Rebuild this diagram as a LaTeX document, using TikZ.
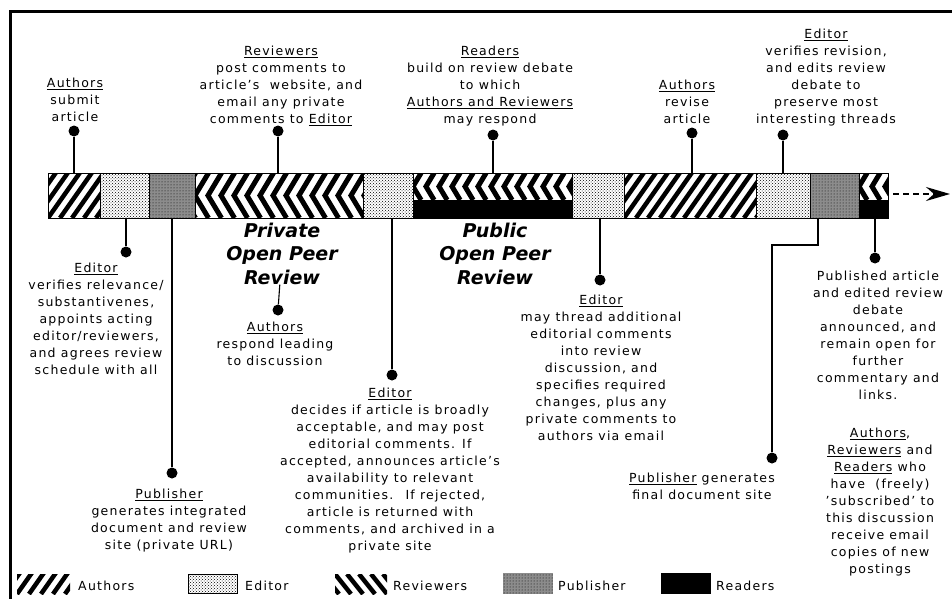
\documentclass[tikz,border=0pt]{standalone}
\usepackage{fontspec}
\setmainfont{DejaVu Sans}[LetterSpace=10]
\newfontfamily\headfont{DejaVu Sans}
\usepackage{tikz}
\usetikzlibrary{arrows.meta,patterns,positioning}

\newcommand{\who}[1]{\underline{#1}}

% diagonal stripes (authors)
\newcommand{\authorsfill}[4]{%
  \begin{scope}
    \clip (#1,#2) rectangle (#3,#4);
    \foreach \i in {-4,...,12}
      \draw[line width=4.5pt] ({#1+\i*12},#4) -- ++(38,-54);
  \end{scope}}
% chevrons (reviewers)
\newcommand{\chevronfill}[4]{%
  \begin{scope}
    \clip (#1,#2) rectangle (#3,#4);
    \foreach \i in {-1,...,14}
      \draw[line width=5pt] ({#1+\i*13+0.3*(#4-#2)},#2) -- ({#1+\i*13},{0.5*(#2+#4)}) -- ({#1+\i*13+0.3*(#4-#2)},#4);
  \end{scope}}

\begin{document}
\begin{tikzpicture}[x=1pt, y=-1pt]
    \tikzstyle{note} = [align=center, inner sep=0pt, anchor=north, font=\fontsize{12.5}{17}\selectfont]
    \tikzstyle{phase} = [align=center, inner sep=0pt, anchor=north, font=\headfont\bfseries\itshape\fontsize{19}{23.5}\selectfont]
    \tikzstyle{blob} = [circle, fill=black, inner sep=0pt, minimum size=11pt]
    \tikzstyle{stem} = [line width=1.1pt]
    \tikzstyle{editorfill} = [pattern=crosshatch dots]
    \tikzstyle{publisherfill} = [fill=black!45, postaction={pattern=dots}]
    \tikzstyle{lbl} = [inner sep=0pt, anchor=base west, font=\fontsize{12.5}{17}\selectfont]
    \tikzstyle{onward} = [-{Stealth[length=24pt,width=14pt,inset=8pt]}, line width=2pt, dash pattern=on 6pt off 4pt]

    \useasboundingbox (0,0) rectangle (952,599);
    \draw[line width=3pt] (10.5,599) -- (10.5,12) -- (952,12);

    % the time line
    \authorsfill{48}{173}{100}{218}
    \path[editorfill] (100,173) rectangle (149,218);
    \path[publisherfill] (149,173) rectangle (195,218);
    \chevronfill{195}{173}{363}{218}
    \path[editorfill] (363,173) rectangle (413,218);
    \chevronfill{413}{173}{572}{200}
    \fill (413,200) rectangle (572,218);
    \path[editorfill] (572,173) rectangle (624,218);
    \authorsfill{624}{173}{756}{218}
    \path[editorfill] (756,173) rectangle (810,218);
    \path[publisherfill] (810,173) rectangle (859,218);
    \chevronfill{859}{173}{888}{200}
    \fill (859,200) rectangle (888,218);
    \draw[line width=1pt] (48,173) rectangle (888,218);
    \foreach \x in {100,149,195,363,413,572,624,756,810,859}
      \draw[line width=1pt] (\x,173) -- (\x,218);

    \coordinate (go) at (893,194);
    \coordinate (goes) at (950,194);
    \draw[onward] (go) -- (goes);

    % steps above the line
    \node[blob] (submit) at (74,131) {};
    \node[blob] (post) at (278,131) {};
    \node[blob] (build) at (493,135) {};
    \node[blob] (revise) at (692,133) {};
    \node[blob] (check2) at (783,135) {};
    \foreach \n/\x in {submit/74, post/278, build/493, revise/692, check2/783}
      \coordinate (\n top) at (\x,173);
    \foreach \n in {submit, post, build, revise, check2}
      \draw[stem] (\n) -- (\n top);

    \node[note] (submitText) at (75,77.5) {\who{Authors}\\submit\\article};
    \node[note] (postText) at (281,45.5) {\who{Reviewers}\\post comments to\\article's \ website, and\\email any private\\comments to \who{Editor}};
    \node[note] (buildText) at (490,45.5) {\who{Readers}\\build on review debate\\to which\\\who{Authors and Reviewers}\\may respond};
    \node[note] (reviseText) at (687,79.5) {\who{Authors}\\revise\\article};
    \node[note] (check2Text) at (826,28.5) {\who{Editor}\\verifies revision,\\and edits review\\debate to\\preserve most\\interesting threads};

    % steps below the line
    \node[blob] (check) at (126,252) {};
    \node[blob] (site) at (172,473) {};
    \node[blob] (decide) at (392,375) {};
    \node[blob] (thread) at (600,280) {};
    \node[blob] (final) at (772,458) {};
    \node[blob] (announce) at (875,258) {};
    \foreach \n/\x in {check/126, site/172, decide/392, thread/600, announce/875}
      \coordinate (\n bot) at (\x,218);
    \foreach \n in {check, site, decide, thread, announce}
      \draw[stem] (\n) -- (\n bot);
    \coordinate (final bot) at (818,218);
    \draw[stem] (final) |- (795,245) -| (final bot);

    \node[note] (checkText) at (96,262.5) {\who{Editor}\\verifies relevance/\\substantivenes,\\appoints acting\\editor/reviewers,\\and agrees review\\schedule with all};
    \node[note] (siteText) at (169,488.5) {\who{Publisher}\\generates integrated\\document and review\\site (private URL)};
    \node[note] (decideText) at (390,387.5) {\who{Editor}\\decides if article is broadly\\acceptable, and may post\\editorial comments. If\\accepted, announces article's\\availability to relevant\\communities. \ If rejected,\\article is returned with\\comments, and archived in a\\private site};
    \node[note] (threadText) at (601,294.5) {\who{Editor}\\may thread additional\\editorial comments\\into review\\discussion, and\\specifies required\\changes, plus any\\private comments to\\authors via email};
    \node[note] (finalText) at (702,472.5) {\who{Publisher} generates\\final document site};
    \node[note] (announceText) at (878,270.5) {Published article\\and edited review\\debate\\announced, and\\remain open for\\further\\commentary and\\links.};
    \node[note] (notifyText) at (880,427.5) {\who{Authors},\\\who{Reviewers} and\\\who{Readers} who\\have \ (freely)\\'subscribed' to\\this discussion\\receive email\\copies of new\\postings};

    % the two phases
    \node[phase] (private) at (282,222.5) {Private\\Open Peer\\Review};
    \node[phase] (public) at (495,222.5) {Public\\Open Peer\\Review};
    \node[blob] (respond) at (278,310) {};
    \draw[stem] (private) -- (respond);
    \node[note] (respondText) at (275,321.5) {\who{Authors}\\respond leading\\to discussion};

    % legend
    \authorsfill{17}{574}{70}{594}
    \path[editorfill, draw, line width=1pt] (188,574) rectangle (237,593);
    \begin{scope}
      \clip (335,574) rectangle (387,594);
      \foreach \i in {-2,...,4}
        \draw[line width=4.5pt] ({335+\i*12},574) -- ++(16,20);
    \end{scope}
    \path[publisherfill] (503,573) rectangle (553,594);
    \fill (661,573) rectangle (711,594);
    \node[lbl] (keyAuthors) at (78,590) {Authors};
    \node[lbl] (keyEditor) at (245,590) {Editor};
    \node[lbl] (keyReviewers) at (393,590) {Reviewers};
    \node[lbl] (keyPublisher) at (558,590) {Publisher};
    \node[lbl] (keyReaders) at (716,590) {Readers};
\end{tikzpicture}
\end{document}
